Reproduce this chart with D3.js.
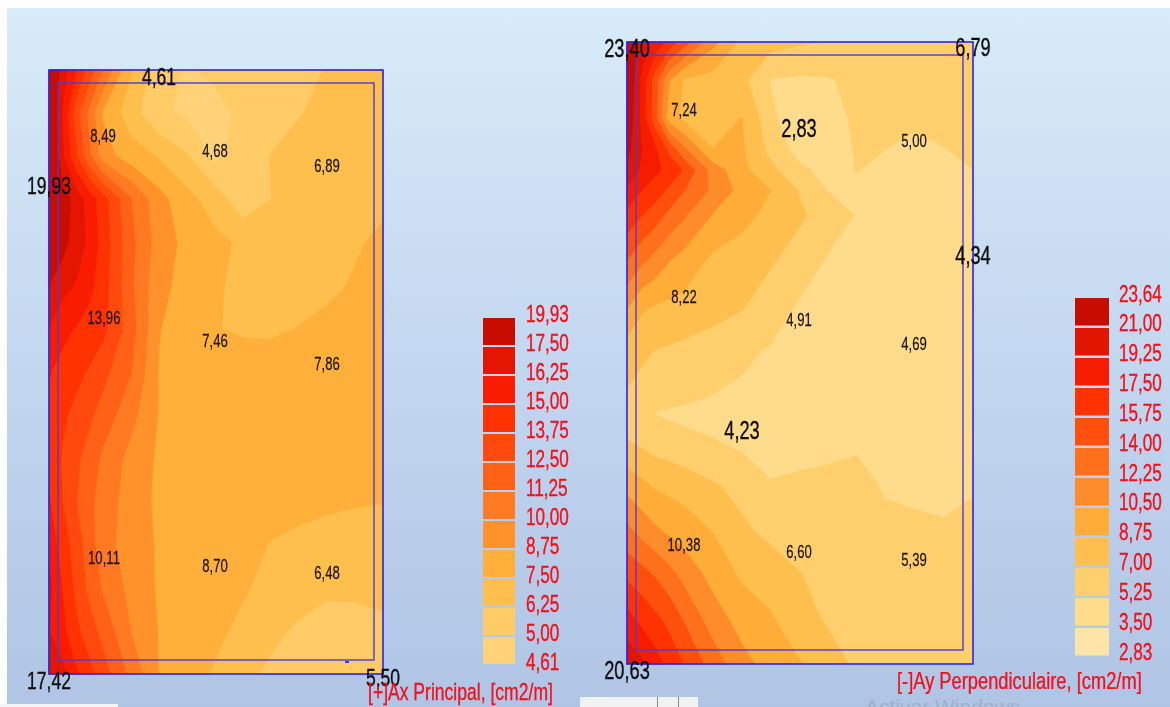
<!DOCTYPE html>
<html><head><meta charset="utf-8">
<style>html,body{margin:0;padding:0;background:#fff}svg{display:block}text{font-family:"Liberation Sans",Arial,sans-serif}</style>
<script src="https://cdn.jsdelivr.net/npm/d3@7"></script></head><body>
<svg id="c" width="1170" height="707"></svg>
<script>
// ---- Plate 1: [+]Ax Principal : mesh node coordinates (plate units) and nodal values
const axColumns = [0,14,28,41,54,82,110,138,166,194,222,250,278,306,334];
const axRows = [0,43,86,129,173,216,259,302,345,388,431,474,518,561,604];
const axValues = [
 [19.3,16.9,14.9,13.1,11.2,7.6,5.4,4.9,5.2,5.5,5.7,6.0,6.3,6.6,6.8],
 [19.6,16.0,12.9,10.8,8.6,6.8,5.2,4.8,4.7,5.2,5.6,6.2,6.5,6.7,6.8],
 [19.5,16.4,13.75,11.4,9.3,8.1,7.4,6.35,4.7,5.5,6.3,6.6,6.8,6.9,7.0],
 [20.0,18.2,16.9,15.6,14.3,11.3,9.2,7.9,6.9,5.4,6.25,6.7,6.9,7.0,7.2],
 [19.5,17.9,16.9,15.9,14.5,11.6,9.4,8.4,7.8,7.3,7.0,6.9,7.0,7.35,7.8],
 [17.5,16.7,16.1,15.3,14.3,11.5,9.1,8.3,7.65,7.2,7.0,7.0,7.2,7.65,8.0],
 [16.2,15.3,14.9,14.5,14.1,11.8,8.8,8.2,7.55,7.35,7.35,7.55,7.9,8.0,8.1],
 [15.1,14.6,14.1,13.6,12.9,11.3,8.7,8.5,8.3,8.1,8.0,8.0,7.9,7.9,7.9],
 [14.7,14.0,13.3,12.7,12.0,10.4,8.7,8.5,8.4,8.2,8.1,8.0,7.9,7.8,7.8],
 [14.6,13.6,12.7,12.0,11.0,9.6,8.55,8.4,8.4,8.3,8.2,8.0,7.9,7.8,7.75],
 [15.1,13.7,12.5,11.5,10.7,9.4,8.5,8.5,8.5,8.3,8.1,7.9,7.7,7.6,7.55],
 [15.9,14.3,13.1,11.7,10.5,9.4,8.6,8.5,8.2,7.9,7.45,7.2,7.1,7.0,6.9],
 [16.6,14.9,13.3,12.1,11.1,9.6,8.6,8.6,8.3,7.65,7.1,6.8,6.4,6.4,6.6],
 [16.3,15.3,14.0,13.0,12.1,10.0,8.7,8.4,7.8,7.2,6.55,6.05,5.9,5.95,5.95],
 [17.4,16.6,15.1,14.1,13.1,10.9,8.7,8.1,7.35,6.65,6.0,5.85,5.7,5.6,5.5]
];
const axLegendLabels = ["19,93","17,50","16,25","15,00","13,75","12,50","11,25","10,00","8,75","7,50","6,25","5,00","4,61"];
const axLevels = [4.61,5,6.25,7.5,8.75,10,11.25,12.5,13.75,15,16.25,17.5];
const axColors = ["#ffd277","#ffcb66","#ffbf4d","#ffb03b","#ff922b","#ff7a20","#ff6218","#ff4a10","#ff3000","#f91e00","#e41500","#c80800"];
const axCornerLabels = [["4,61",110,6],["19,93",0,115],["17,42",0,610],["5,50",334,607]];
const axInnerLabels = [["8,49",54,66],["4,68",166,81],["6,89",278,96],["13,96",55,248],["7,46",166,271],["7,86",278,294],["10,11",55,488],["8,70",166,496],["6,48",278,503]];
const axTitle = "[+]Ax Principal, [cm2/m]";

// ---- Plate 2: [-]Ay Perpendiculaire
const ayColumns = [0,14,28,42,57,86,115,143,172,201,230,258,287,316,346];
const ayRows = [0,38,76,108,128,148,173,218,267,311,355,371,400,444,489,533,578,622];
const ayValues = [
 [23.4,20.4,18.7,17.0,14.9,11.0,8.3,7.7,7.2,6.95,6.85,6.8,6.8,6.8,6.79],
 [23.0,19.0,14.9,10.7,8.6,8.1,7.5,5.2,5.0,5.1,5.7,5.8,5.9,6.0,6.1],
 [22.6,18.9,14.7,9.6,8.3,8.0,8.8,5.9,3.3,4.5,5.6,5.5,5.45,5.6,5.7],
 [21.6,19.4,17.9,15.4,12.7,8.8,9.0,6.6,4.6,4.7,5.35,5.25,5.0,5.2,5.5],
 [20.5,19.0,18.0,16.9,15.6,11.5,9.2,7.5,5.7,4.6,5.3,5.0,4.85,5.0,5.25],
 [19.0,17.6,16.6,15.5,14.1,11.9,9.9,8.8,6.9,5.2,5.0,4.8,4.75,4.85,5.0],
 [17.0,15.9,14.9,13.6,12.5,10.4,9.3,8.3,7.3,6.2,5.15,4.6,4.5,4.5,4.5],
 [14.0,12.7,11.7,10.6,9.9,8.4,7.9,7.2,6.3,5.1,4.6,4.4,4.35,4.35,4.34],
 [10.5,9.0,8.5,8.3,8.1,7.6,7.05,6.2,5.0,4.7,4.6,4.5,4.5,4.4,4.35],
 [7.8,7.3,6.9,6.7,6.5,6.1,5.6,5.05,4.8,4.7,4.6,4.6,4.6,4.5,4.4],
 [6.8,6.4,6.2,5.9,5.6,5.2,4.9,4.6,4.4,4.35,4.3,4.3,4.4,4.4,4.4],
 [6.4,5.6,5.2,5.0,4.9,4.7,4.5,4.3,4.25,4.3,4.3,4.35,4.5,4.5,4.6],
 [7.1,6.7,6.2,6.0,5.65,5.35,4.9,4.5,4.4,4.8,5.1,4.8,4.7,4.7,4.9],
 [9.9,9.2,8.6,8.3,8.0,7.2,6.5,5.4,5.7,5.7,5.6,5.15,5.0,4.9,5.2],
 [12.7,11.7,10.8,10.2,9.7,8.7,7.3,6.6,6.1,5.8,5.6,5.5,5.5,5.4,5.4],
 [15.4,14.7,13.9,12.9,11.7,9.9,8.5,7.9,7.1,6.3,5.9,5.7,5.6,5.5,5.5],
 [18.2,17.1,16.2,15.3,13.9,11.4,9.8,9.0,7.7,6.8,6.2,5.8,5.6,5.5,5.4],
 [20.6,19.7,18.3,16.9,15.7,13.2,11.1,9.8,8.9,7.8,6.7,6.2,5.8,5.6,5.5]
];
const ayLegendLabels = ["23,64","21,00","19,25","17,50","15,75","14,00","12,25","10,50","8,75","7,00","5,25","3,50","2,83"];
const ayLevels = [2.83,3.5,5.25,7,8.75,10.5,12.25,14,15.75,17.5,19.25,21];
const ayColors = ["#ffe4a8","#ffdc8c","#ffcf6e","#ffbf4d","#ffac38","#ff8c2a","#ff701e","#ff5010","#ff3000","#f51e00","#e01500","#c80800"];
const ayCornerLabels = [["23,40",0,6],["6,79",346,5],["4,34",346,213],["20,63",0,628],["2,83",172,86],["4,23",115,388]];
const ayInnerLabels = [["7,24",57,68],["5,00",287,99],["8,22",57,255],["4,91",172,278],["4,69",287,302],["10,38",57,503],["6,60",172,510],["5,39",287,518]];
const ayTitle = "[-]Ay Perpendiculaire, [cm2/m]";

const svg = d3.select("#c");
const defs = svg.append("defs");
const grad = defs.append("linearGradient").attr("id","sky").attr("x1",0).attr("x2",0).attr("y1",0).attr("y2",1);
[[0,"#d8ebf8"],[0.5,"#c3d7f0"],[1,"#b0c4e5"]].forEach(s=>grad.append("stop").attr("offset",s[0]).attr("stop-color",s[1]));
defs.append("filter").attr("id","soft").attr("x",0).attr("y",0).attr("width",1).attr("height",1)
  .attr("filterUnits","userSpaceOnUse").attr("primitiveUnits","userSpaceOnUse")
  .call(f=>f.attr("x",0).attr("y",0).attr("width",1170).attr("height",707).append("feGaussianBlur").attr("stdDeviation",0.45));
svg.append("rect").attr("width",1170).attr("height",707).attr("fill","#fff");
svg.append("rect").attr("x",7).attr("y",8).attr("width",1163).attr("height",699).attr("fill","url(#sky)");
// window chrome fragments along the bottom edge
svg.append("rect").attr("x",0).attr("y",704).attr("width",118).attr("height",3).attr("fill","#f4f4f4");
svg.append("rect").attr("x",580).attr("y",697).attr("width",118).attr("height",10).attr("fill","#f2f2f2");
[657,678].forEach(x=>svg.append("rect").attr("x",x).attr("y",697).attr("width",1).attr("height",10).attr("fill","#8a8a8a"));
svg.append("text").attr("transform","translate(865,714)").attr("font-size",21).attr("fill","#9fb0c8").text("Activer Windows");

function label(sel,t,x,y,size,fill,sx,weight){
  return sel.append("text").attr("transform",`translate(${x},${y}) scale(${sx},1)`)
    .attr("text-anchor","middle").attr("dominant-baseline","central").attr("font-size",size)
    .attr("fill",fill).attr("stroke",fill).attr("stroke-width",weight).text(t);
}

function plate(o){
  const g = svg.append("g").attr("filter","url(#soft)");
  const sx = d3.scaleLinear().domain([0,d3.max(o.columns)]).range(o.xr);
  const sy = d3.scaleLinear().domain([0,d3.max(o.rows)]).range(o.yr);
  const ix = d3.scaleLinear().domain(d3.range(o.columns.length)).range(o.columns).clamp(true);
  const iy = d3.scaleLinear().domain(d3.range(o.rows.length)).range(o.rows).clamp(true);
  const proj = d3.geoTransform({point(x,y){this.stream.point(sx(ix(x-0.5)),sy(iy(y-0.5)));}});
  const path = d3.geoPath(proj);
  const contours = d3.contours().size([o.columns.length,o.rows.length]).thresholds(o.levels.slice(1));
  const polys = contours(o.values.flat());
  g.append("rect").attr("x",o.xr[0]).attr("y",o.yr[0]).attr("width",o.xr[1]-o.xr[0]).attr("height",o.yr[1]-o.yr[0]).attr("fill",o.colors[0]);
  g.selectAll("path.band").data(polys).join("path").attr("class","band").attr("d",path)
    .attr("fill",(d,i)=>o.colors[i+1]).attr("stroke",(d,i)=>o.colors[i+1]).attr("stroke-width",0.3);
  // outer + inner plate outlines
  g.append("rect").attr("x",sx(0)).attr("y",sy(0)).attr("width",sx.range()[1]-sx(0)).attr("height",sy.range()[1]-sy(0))
    .attr("fill","none").attr("stroke","#2a22f0").attr("stroke-width",1.6);
  g.append("rect").attr("x",o.inner[0]).attr("y",o.inner[1]).attr("width",o.inner[2]-o.inner[0]).attr("height",o.inner[3]-o.inner[1])
    .attr("fill","none").attr("stroke","#4a3ae0").attr("stroke-width",1.4);
  o.inside.forEach(d=>label(g,d[0],sx(d[1]),sy(d[2]),18,"#1c1608",0.73,0.25));
  o.corners.forEach(d=>label(g,d[0],sx(d[1]),sy(d[2]),o.big,"#0c0c0c",0.73,0.35));
  // legend
  const ly = d3.scaleLinear().domain([0,o.legend.length-1]).range(o.legendY);
  const sw = d3.scaleLinear().domain([0,1]).range(o.swatchY);
  const n = o.colors.length;
  d3.range(n).forEach(i=>{
    g.append("rect").attr("x",o.swatchX[0]).attr("y",sw(i)).attr("width",o.swatchX[1]-o.swatchX[0]).attr("height",o.swatchH)
      .attr("fill",o.colors[n-1-i]);
  });
  o.legend.forEach((t,i)=>{
    g.append("text").attr("transform",`translate(${o.legendX},${ly(i)}) scale(0.73,1)`).attr("dominant-baseline","central")
      .attr("font-size",23.5).attr("fill","#f60a14").attr("stroke","#f60a14").attr("stroke-width",0.3).text(t);
  });
  const title = g.append("text").attr("dominant-baseline","central").attr("font-size",23.5)
    .attr("fill","#f60a14").attr("stroke","#f60a14").attr("stroke-width",0.25).text(o.title);
  const k = (o.titleX[1]-o.titleX[0])/title.node().getComputedTextLength();
  title.attr("transform",`translate(${o.titleX[0]},${o.titleY}) scale(${k},1)`);
}

plate({columns:axColumns,rows:axRows,values:axValues,levels:axLevels,colors:axColors,
  xr:[49,383],yr:[70,674],inner:[58,83,374,660],
  inside:axInnerLabels,corners:axCornerLabels,big:24,
  legend:axLegendLabels,legendX:526,legendY:[313,661],
  swatchX:[483,515],swatchY:[318,347],swatchH:27,
  title:axTitle,titleX:[368,553],titleY:692});
plate({columns:ayColumns,rows:ayRows,values:ayValues,levels:ayLevels,colors:ayColors,
  xr:[627,973],yr:[42,664],inner:[636,55,963,650],
  inside:ayInnerLabels,corners:ayCornerLabels,big:25,
  legend:ayLegendLabels,legendX:1119,legendY:[293,651],
  swatchX:[1075,1109],swatchY:[298,328],swatchH:27.5,
  title:ayTitle,titleX:[897,1142],titleY:681});
svg.append("rect").attr("x",345).attr("y",661).attr("width",4).attr("height",2).attr("fill","#1f4be0");
</script></body></html>
